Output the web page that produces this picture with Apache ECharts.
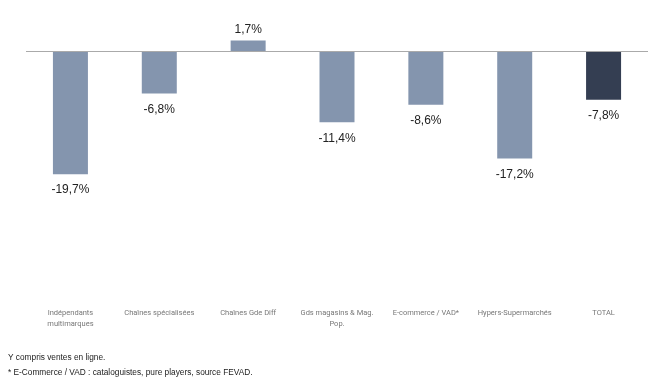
<!DOCTYPE html>
<html><head><meta charset="utf-8">
<script src="https://cdn.jsdelivr.net/npm/echarts@6/dist/echarts.min.js"></script>
<style>html,body{margin:0;padding:0;background:#fff}#c{width:662px;height:384px}</style>
</head><body><div id="c"></div>
<script>
const categories = ['Indépendants\nmultimarques','Chaînes spécialisées','Chaînes Gde Diff','Gds magasins & Mag.\nPop.','E-commerce / VAD*','Hypers-Supermarchés','TOTAL'];
const values = [-19.7, -6.8, 1.7, -11.4, -8.6, -17.2, -7.8];
const footnotes = ['Y compris ventes en ligne.', '* E-Commerce / VAD : cataloguistes, pure players, source FEVAD.'];

const chart = echarts.init(document.getElementById('c'));
chart.setOption({
  animation: false,
  grid: {left: 26, right: 14, top: 26, bottom: 83},
  xAxis: {
    type: 'category', data: categories,
    axisLine: {show: false}, axisTick: {show: false},
    axisLabel: {color: '#777777', fontFamily: 'Roboto', fontSize: 7.5, lineHeight: 11, margin: 7, interval: 0}
  },
  yAxis: {type: 'value', min: -40, max: 4, show: false, splitLine: {show: false}},
  series: [{
    type: 'bar', barWidth: 35,
    data: values.map((v, i) => ({
      value: v,
      itemStyle: {color: i === values.length - 1 ? '#343e52' : '#8495ae'},
      label: {position: v < 0 ? 'bottom' : 'top', distance: v < 0 ? 10 : 5}
    })),
    label: {show: true, color: '#222', fontFamily: 'Liberation Sans', fontSize: 12,
      formatter: p => p.value.toFixed(1).replace('.', ',') + '%'},
    markLine: {silent: true, symbol: 'none', label: {show: false},
      lineStyle: {color: '#aaaaaa', width: 1, type: 'solid'},
      data: [{yAxis: 0}]}
  }],
  graphic: footnotes.map((t, i) => ({
    type: 'text', left: 8, top: 354 + i * 15,
    style: {text: t, fill: '#222', font: '8.3px "Liberation Sans", sans-serif'}
  }))
});
</script></body></html>
